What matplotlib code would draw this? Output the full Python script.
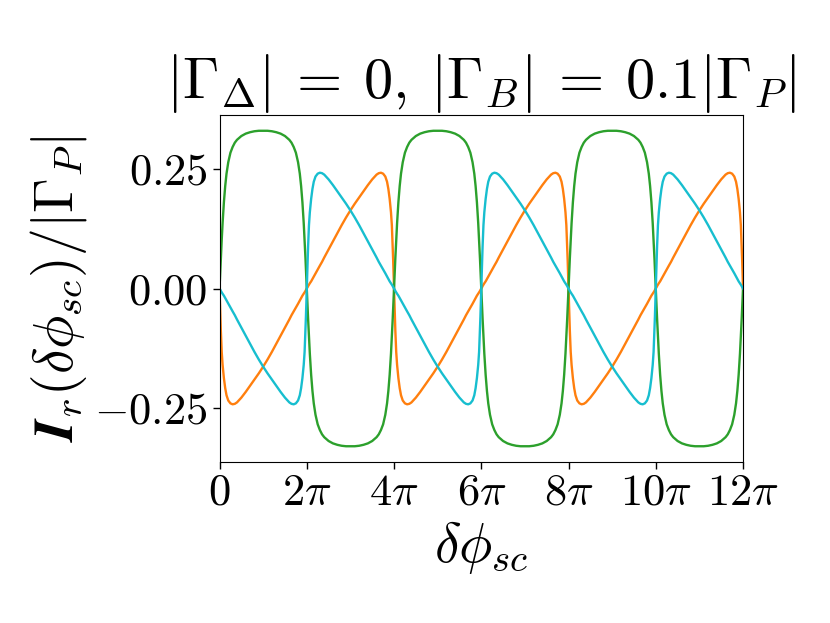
import numpy as np
import matplotlib
matplotlib.use("Agg")
import matplotlib.pyplot as plt

# sample positions of the phase, in units of pi
x_pi = [
    0, 0.01, 0.02, 0.03, 0.05, 0.07, 0.1, 0.13, 0.16, 0.2, 0.25, 0.3, 0.35, 0.4, 0.5, 0.6, 0.7, 0.8, 0.9, 1.0, 1.1, 1.2, 1.3, 1.4, 1.5, 1.6, 1.65, 1.7, 1.75, 1.8, 1.84, 1.87, 1.9, 1.93, 1.95, 1.97, 1.98, 1.99,
    2, 2.01, 2.02, 2.03, 2.05, 2.07, 2.1, 2.13, 2.16, 2.2, 2.25, 2.3, 2.35, 2.4, 2.5, 2.6, 2.7, 2.8, 2.9, 3.0, 3.1, 3.2, 3.3, 3.4, 3.5, 3.6, 3.65, 3.7, 3.75, 3.8, 3.84, 3.87, 3.9, 3.93, 3.95, 3.97, 3.98, 3.99,
    4, 4.01, 4.02, 4.03, 4.05, 4.07, 4.1, 4.13, 4.16, 4.2, 4.25, 4.3, 4.35, 4.4, 4.5, 4.6, 4.7, 4.8, 4.9, 5.0, 5.1, 5.2, 5.3, 5.4, 5.5, 5.6, 5.65, 5.7, 5.75, 5.8, 5.84, 5.87, 5.9, 5.93, 5.95, 5.97, 5.98, 5.99,
    6, 6.01, 6.02, 6.03, 6.05, 6.07, 6.1, 6.13, 6.16, 6.2, 6.25, 6.3, 6.35, 6.4, 6.5, 6.6, 6.7, 6.8, 6.9, 7.0, 7.1, 7.2, 7.3, 7.4, 7.5, 7.6, 7.65, 7.7, 7.75, 7.8, 7.84, 7.87, 7.9, 7.93, 7.95, 7.97, 7.98, 7.99,
    8, 8.01, 8.02, 8.03, 8.05, 8.07, 8.1, 8.13, 8.16, 8.2, 8.25, 8.3, 8.35, 8.4, 8.5, 8.6, 8.7, 8.8, 8.9, 9.0, 9.1, 9.2, 9.3, 9.4, 9.5, 9.6, 9.65, 9.7, 9.75, 9.8, 9.84, 9.87, 9.9, 9.93, 9.95, 9.97, 9.98, 9.99,
    10, 10.01, 10.02, 10.03, 10.05, 10.07, 10.1, 10.13, 10.16, 10.2, 10.25, 10.3, 10.35, 10.4, 10.5, 10.6, 10.7, 10.8, 10.9, 11.0, 11.1, 11.2, 11.3, 11.4, 11.5, 11.6, 11.65, 11.7, 11.75, 11.8, 11.84, 11.87, 11.9, 11.93, 11.95, 11.97, 11.98, 11.99,
    12,
]

orange_vals = [
    0, -.030, -.060, -.088, -.133, -.160, -.188, -.209, -.224, -.235, -.241, -.243, -.242, -.239, -.229, -.217, -.204, -.191, -.178, -.164, -.149, -.133, -.116, -.099, -.082, -.065, -.056, -.048, -.040, -.032, -.025, -.020, -.015, -.011, -.008, -.005, -.003, -.0015,
    0, .0015, .003, .005, .008, .011, .015, .020, .025, .032, .040, .048, .056, .065, .082, .099, .116, .133, .149, .164, .178, .191, .204, .217, .229, .239, .242, .243, .241, .235, .224, .209, .188, .160, .133, .088, .060, .030,
    0, -.030, -.060, -.088, -.133, -.160, -.188, -.209, -.224, -.235, -.241, -.243, -.242, -.239, -.229, -.217, -.204, -.191, -.178, -.164, -.149, -.133, -.116, -.099, -.082, -.065, -.056, -.048, -.040, -.032, -.025, -.020, -.015, -.011, -.008, -.005, -.003, -.0015,
    0, .0015, .003, .005, .008, .011, .015, .020, .025, .032, .040, .048, .056, .065, .082, .099, .116, .133, .149, .164, .178, .191, .204, .217, .229, .239, .242, .243, .241, .235, .224, .209, .188, .160, .133, .088, .060, .030,
    0, -.030, -.060, -.088, -.133, -.160, -.188, -.209, -.224, -.235, -.241, -.243, -.242, -.239, -.229, -.217, -.204, -.191, -.178, -.164, -.149, -.133, -.116, -.099, -.082, -.065, -.056, -.048, -.040, -.032, -.025, -.020, -.015, -.011, -.008, -.005, -.003, -.0015,
    0, .0015, .003, .005, .008, .011, .015, .020, .025, .032, .040, .048, .056, .065, .082, .099, .116, .133, .149, .164, .178, .191, .204, .217, .229, .239, .242, .243, .241, .235, .224, .209, .188, .160, .133, .088, .060, .030,
    0,
]

cyan_vals = [
    0, -.0015, -.003, -.005, -.008, -.011, -.015, -.020, -.025, -.032, -.040, -.048, -.056, -.065, -.082, -.099, -.116, -.133, -.149, -.164, -.178, -.191, -.204, -.217, -.229, -.239, -.242, -.243, -.241, -.235, -.224, -.209, -.188, -.160, -.133, -.088, -.060, -.030,
    0, .030, .060, .088, .133, .160, .188, .209, .224, .235, .241, .243, .242, .239, .229, .217, .204, .191, .178, .164, .149, .133, .116, .099, .082, .065, .056, .048, .040, .032, .025, .020, .015, .011, .008, .005, .003, .0015,
    0, -.0015, -.003, -.005, -.008, -.011, -.015, -.020, -.025, -.032, -.040, -.048, -.056, -.065, -.082, -.099, -.116, -.133, -.149, -.164, -.178, -.191, -.204, -.217, -.229, -.239, -.242, -.243, -.241, -.235, -.224, -.209, -.188, -.160, -.133, -.088, -.060, -.030,
    0, .030, .060, .088, .133, .160, .188, .209, .224, .235, .241, .243, .242, .239, .229, .217, .204, .191, .178, .164, .149, .133, .116, .099, .082, .065, .056, .048, .040, .032, .025, .020, .015, .011, .008, .005, .003, .0015,
    0, -.0015, -.003, -.005, -.008, -.011, -.015, -.020, -.025, -.032, -.040, -.048, -.056, -.065, -.082, -.099, -.116, -.133, -.149, -.164, -.178, -.191, -.204, -.217, -.229, -.239, -.242, -.243, -.241, -.235, -.224, -.209, -.188, -.160, -.133, -.088, -.060, -.030,
    0, .030, .060, .088, .133, .160, .188, .209, .224, .235, .241, .243, .242, .239, .229, .217, .204, .191, .178, .164, .149, .133, .116, .099, .082, .065, .056, .048, .040, .032, .025, .020, .015, .011, .008, .005, .003, .0015,
    0,
]

green_vals = [
    0, .021, .043, .063, .102, .137, .181, .215, .241, .265, .285, .297, .306, .312, .320, .325, .328, .330, .331, .331, .331, .330, .328, .325, .320, .312, .306, .297, .285, .265, .241, .215, .181, .137, .102, .063, .043, .021,
    0, -.021, -.043, -.063, -.102, -.137, -.181, -.215, -.241, -.265, -.285, -.297, -.306, -.312, -.320, -.325, -.328, -.330, -.331, -.331, -.331, -.330, -.328, -.325, -.320, -.312, -.306, -.297, -.285, -.265, -.241, -.215, -.181, -.137, -.102, -.063, -.043, -.021,
    0, .021, .043, .063, .102, .137, .181, .215, .241, .265, .285, .297, .306, .312, .320, .325, .328, .330, .331, .331, .331, .330, .328, .325, .320, .312, .306, .297, .285, .265, .241, .215, .181, .137, .102, .063, .043, .021,
    0, -.021, -.043, -.063, -.102, -.137, -.181, -.215, -.241, -.265, -.285, -.297, -.306, -.312, -.320, -.325, -.328, -.330, -.331, -.331, -.331, -.330, -.328, -.325, -.320, -.312, -.306, -.297, -.285, -.265, -.241, -.215, -.181, -.137, -.102, -.063, -.043, -.021,
    0, .021, .043, .063, .102, .137, .181, .215, .241, .265, .285, .297, .306, .312, .320, .325, .328, .330, .331, .331, .331, .330, .328, .325, .320, .312, .306, .297, .285, .265, .241, .215, .181, .137, .102, .063, .043, .021,
    0, -.021, -.043, -.063, -.102, -.137, -.181, -.215, -.241, -.265, -.285, -.297, -.306, -.312, -.320, -.325, -.328, -.330, -.331, -.331, -.331, -.330, -.328, -.325, -.320, -.312, -.306, -.297, -.285, -.265, -.241, -.215, -.181, -.137, -.102, -.063, -.043, -.021,
    0,
]

xtick_pi = [0, 2, 4, 6, 8, 10, 12]
xtick_labels = [r"$0$", r"$2\pi$", r"$4\pi$", r"$6\pi$", r"$8\pi$", r"$10\pi$", r"$12\pi$"]
ytick_vals = [-0.25, 0.0, 0.25]
ytick_labels = [r"$-0.25$", r"$0.00$", r"$0.25$"]

plt.rcParams["mathtext.fontset"] = "cm"
plt.rcParams["font.family"] = "serif"
plt.rcParams["font.serif"] = ["cmr10", "DejaVu Serif"]

fig = plt.figure(figsize=(8.3, 6.23), dpi=100)
ax = fig.add_axes([0.2645, 0.2584, 0.6307, 0.557])

x = np.array(x_pi) * np.pi
ax.plot(x, orange_vals, color="#ff7f0e", lw=1.7)
ax.plot(x, green_vals, color="#2ca02c", lw=1.7)
ax.plot(x, cyan_vals, color="#17becf", lw=1.7)

ax.set_xlim(0, 12 * np.pi)
ax.set_xticks(np.array(xtick_pi) * np.pi)
ax.set_xticklabels(xtick_labels)
ax.set_yticks(ytick_vals)
ax.set_yticklabels(ytick_labels)
ax.tick_params(labelsize=32, length=5, width=1)

ax.set_xlabel(r"$\delta\phi_{sc}$", fontsize=40)
ax.set_ylabel(r"$\boldsymbol{I}_r(\delta\phi_{sc})/|\Gamma_P|$", fontsize=40)
ax.set_title(r"$|\Gamma_\Delta|\:=\:0,\:|\Gamma_B|\:=\:0.1|\Gamma_P|$", fontsize=42, pad=2)

fig.savefig("out.png", dpi=100)
